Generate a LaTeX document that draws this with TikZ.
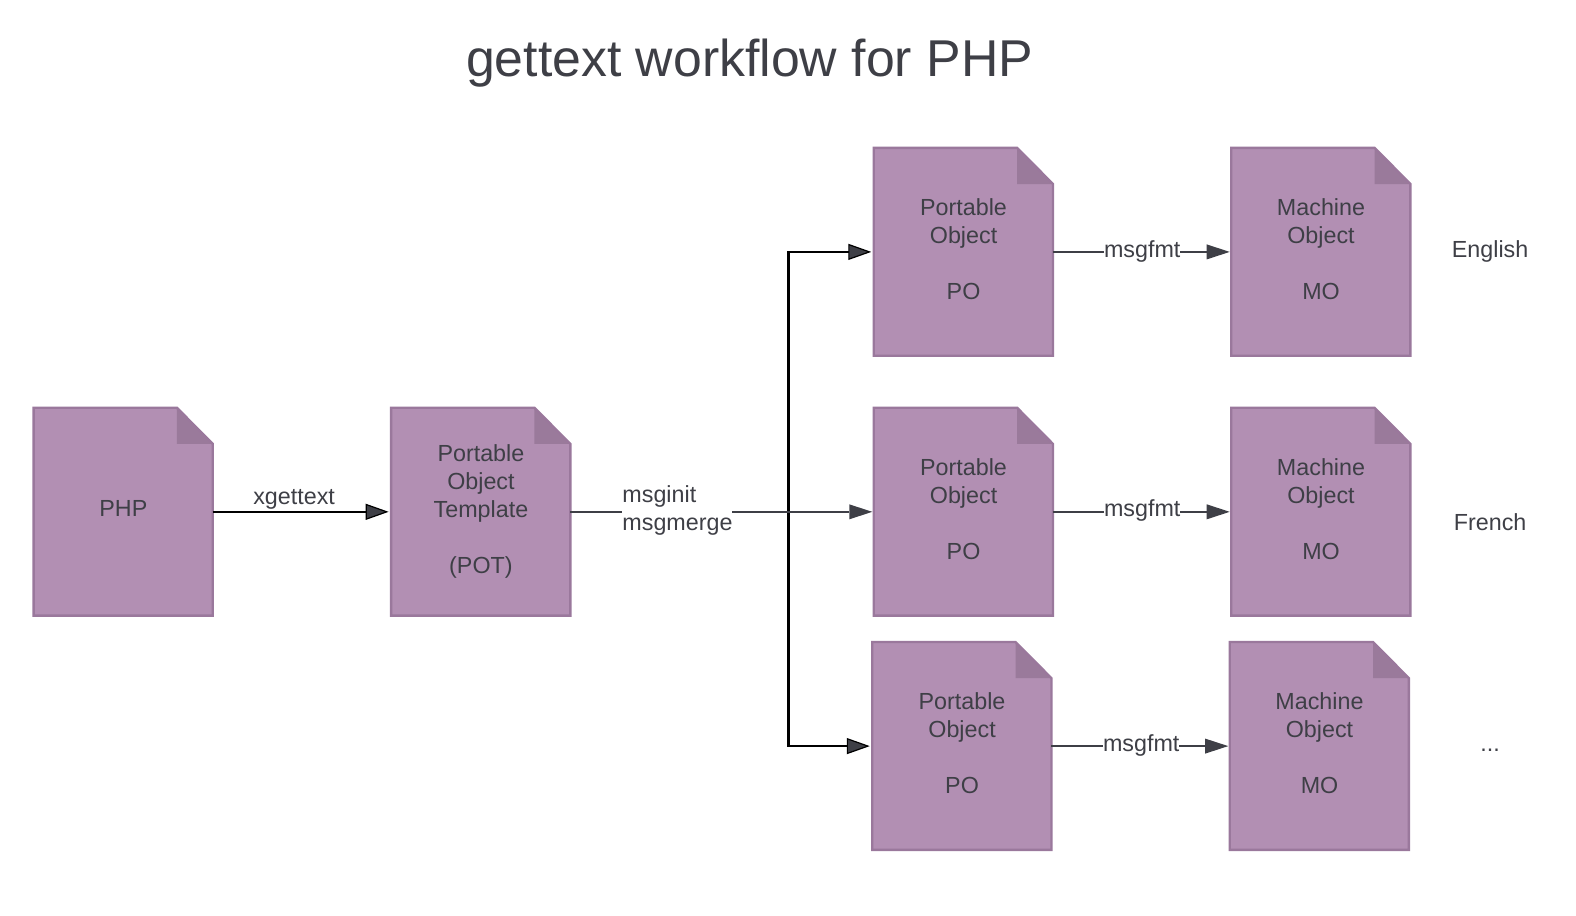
\documentclass[tikz,border=0pt]{standalone}
\usepackage{fontspec}
\setmainfont{Liberation Sans}
\usetikzlibrary{arrows.meta}
\definecolor{ink}{HTML}{3E3F46}
\definecolor{docfill}{HTML}{B28FB3}
\definecolor{docline}{HTML}{9A789C}
\definecolor{docfold}{HTML}{9A7A9B}
\tikzset{
  x=1.0055pt,y=-1.0055pt,
  docbox/.style={minimum width=179pt,minimum height=208.2pt,inner sep=0pt,outer sep=0pt,anchor=north west},
  doclabel/.style={text=ink,align=center,font=\fontsize{23.3}{28}\selectfont,inner sep=0pt},
  edgelabel/.style={text=ink,font=\fontsize{23.3}{28}\selectfont,fill=white,inner sep=0pt},
  sidelabel/.style={text=ink,font=\fontsize{23.3}{28}\selectfont,inner sep=0pt},
  tipblack/.style={draw=black,line width=2.6pt,-{Triangle[length=23pt,width=16pt,fill=ink,line width=1.2pt]},shorten >=2.5pt},
  tipgrey/.style={draw=ink,line width=2.4pt,-{Triangle[length=23pt,width=15pt,fill=ink,line width=0pt]},shorten >=1.5pt},
}
\newcommand{\docshape}[5]{%
  \fill[docfill] (#2,#3) -- ++(142.5,0) -- ++(35.7,36) -- ++(0,170.8) -- ++(-178.2,0) -- cycle;
  \fill[docfold] (#2+142.5,#3) -- ++(35.7,36) -- ++(-35.7,0) -- cycle;
  \draw[docline,line width=2.4pt,line join=miter] (#2,#3) -- ++(142.5,0) -- ++(35.7,36) -- ++(0,170.8) -- ++(-178.2,0) -- cycle;
  \node[docbox] (#1) at (#2,#3) {};
  \node[doclabel] (#1text) at (#2+89.3,#3+#5) {#4};
}
\begin{document}
\begin{tikzpicture}
\useasboundingbox (0,0) rectangle (1567.4,911);
\node[text=ink,font=\fontsize{51.8}{60}\selectfont,inner sep=0pt] (title) at (745.5,63) {gettext workflow for PHP};

\docshape{php}{33.4}{405.5}{PHP}{100}
\docshape{pot}{389}{405.5}{Portable\\Object\\Template\\~\\(POT)}{103}
\docshape{poa}{869}{147}{Portable\\Object\\~\\PO}{101}
\docshape{moa}{1224.5}{147}{Machine\\Object\\~\\MO}{101}
\docshape{pob}{869}{405.5}{Portable\\Object\\~\\PO}{101}
\docshape{mob}{1224.5}{405.5}{Machine\\Object\\~\\MO}{101}
\docshape{poc}{867.5}{638.5}{Portable\\Object\\~\\PO}{101}
\docshape{moc}{1223}{638.5}{Machine\\Object\\~\\MO}{101}

\draw[tipblack] (php.east) -- (pot.west);
\node[sidelabel] (xg) at (292.5,497) {xgettext};

\coordinate (junction) at (784,509);
\draw[tipblack] (junction) |- (poa.west);
\draw[tipblack] (junction) |- (poc.west);
\draw[tipgrey] (pot.east) -- (pob.west);
\node[edgelabel,align=left,text width=110pt] (merge) at (673.75,508) {msginit\\msgmerge};

\draw[tipgrey] (poa.east) -- (moa.west);
\node[edgelabel] (fmta) at (1136,250.4) {msgfmt};
\draw[tipgrey] (pob.east) -- (mob.west);
\node[edgelabel] (fmtb) at (1136,508) {msgfmt};
\draw[tipgrey] (poc.east) -- (moc.west);
\node[edgelabel] (fmtc) at (1135,741) {msgfmt};

\node[sidelabel] (en) at (1482,250.3) {English};
\node[sidelabel] (fr) at (1482,519) {French};
\node[sidelabel] (etc) at (1482,746) {...};
\end{tikzpicture}
\end{document}
